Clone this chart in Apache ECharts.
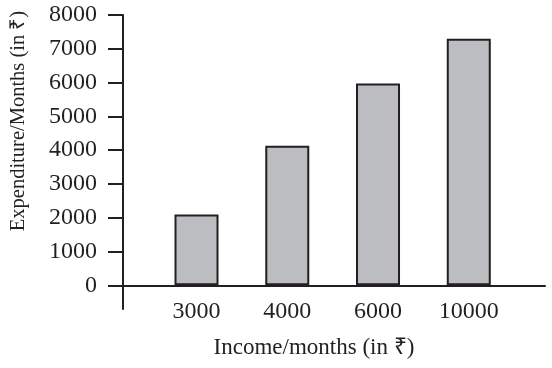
<!DOCTYPE html>
<html><head><meta charset="utf-8">
<script src="https://cdn.jsdelivr.net/npm/echarts@6/dist/echarts.min.js"></script>
<style>html,body{margin:0;padding:0;background:#fff}#c{width:552px;height:368px}</style>
</head><body><div id="c"></div>
<script>
const categories = ['3000', '4000', '6000', '10000'];
const expenditure = [2100, 4130, 5970, 7300];
const yTicks = [0, 1000, 2000, 3000, 4000, 5000, 6000, 7000, 8000];
const xName = 'Income/months (in ₹)';
const yName = 'Expenditure/Months (in ₹)';

const ink = '#231f20';
const font = '"Liberation Serif", "Times New Roman", serif';
const positions = categories.map((c, i) => i + 1);
const chart = echarts.init(document.getElementById('c'));
chart.setOption({
  animation: false,
  grid: { left: 123, right: 7, top: 15, bottom: 59 },
  xAxis: {
    type: 'value', min: 0.19, max: 4.84,
    splitLine: { show: false },
    axisLine: { onZero: true, lineStyle: { color: ink, width: 2 } },
    axisTick: { show: false },
    axisLabel: {
      customValues: positions,
      formatter: v => categories[Math.round(v) - 1] || '',
      color: ink, fontFamily: font, fontSize: 24, margin: -9
    }
  },
  yAxis: {
    type: 'value', min: -700, max: 8000,
    splitLine: { show: false },
    axisLine: { show: true, onZero: false, lineStyle: { color: ink, width: 2 } },
    axisTick: { show: true, customValues: yTicks, length: 15, lineStyle: { color: ink, width: 2 } },
    axisLabel: { customValues: yTicks, formatter: v => String(v), color: ink, fontFamily: font, fontSize: 24, margin: 26 }
  },
  graphic: [
    { type: 'text', x: 314, y: 348, style: { text: xName, font: '23px ' + font, fill: ink, textAlign: 'center', textVerticalAlign: 'middle' } },
    { type: 'text', x: 19, y: 121, rotation: Math.PI / 2, style: { text: yName, font: '20.5px ' + font, fill: ink, textAlign: 'center', textVerticalAlign: 'middle' } }
  ],
  series: [{
    type: 'bar', barWidth: 44,
    data: positions.map((p, i) => [p, expenditure[i]]),
    itemStyle: { color: '#bcbdc0', borderColor: ink, borderWidth: 2 }
  }]
});
</script></body></html>
